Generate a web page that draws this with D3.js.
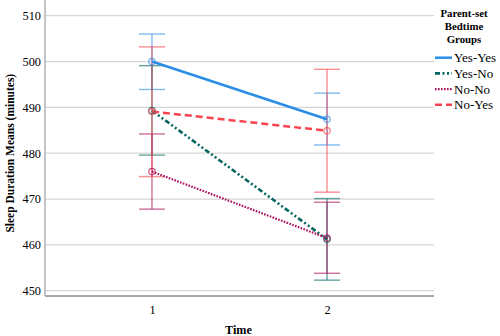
<!DOCTYPE html>
<html>
<head>
<meta charset="utf-8">
<script src="https://cdn.jsdelivr.net/npm/d3@7"></script>
</head>
<body style="margin:0;background:#fff">
<svg id="chart" width="500" height="336" font-family="Liberation Serif"></svg>
<script>
// Time points and group means with 95% CI bounds
const times = ["1", "2"];
const groups = ["Yes-Yes", "Yes-No", "No-No", "No-Yes"];
const means = {
  "Yes-Yes": [500.0, 487.4],
  "Yes-No":  [489.3, 461.2],
  "No-No":   [476.0, 461.5],
  "No-Yes":  [489.1, 484.9]
};
const lower = {
  "Yes-Yes": [493.9, 481.8],
  "Yes-No":  [479.6, 452.3],
  "No-No":   [467.8, 453.8],
  "No-Yes":  [474.9, 471.5]
};
const upper = {
  "Yes-Yes": [506.0, 493.1],
  "Yes-No":  [499.1, 470.1],
  "No-No":   [484.2, 469.3],
  "No-Yes":  [503.2, 498.3]
};
const yTicks = [450, 460, 470, 480, 490, 500, 510];

const colors = {
  "Yes-Yes": "#2b8ee6",
  "Yes-No":  "#03665f",
  "No-No":   "#a8105a",
  "No-Yes":  "#f9434f"
};
const dashes = {
  "Yes-Yes": null,
  "Yes-No":  "5,2.5,2,2.5,2,2.5",
  "No-No":   "1.6,1.4",
  "No-Yes":  "7,4"
};
const widths = { "Yes-Yes": 2.5, "Yes-No": 2.6, "No-No": 2.2, "No-Yes": 2.5 };

const FONT = "Liberation Serif";
const svg = d3.select("#chart");
const plotLeft = 45, plotRight = 434, plotTop = 0, plotBottom = 296;

const x = d3.scalePoint().domain(times).range([plotLeft, plotRight]).padding(0.611);
const y = d3.scaleLinear().domain([450, 510]).range([290.7, 15.7]);

// grid lines
svg.append("g").selectAll("line").data(yTicks).join("line")
  .attr("x1", plotLeft).attr("x2", plotRight)
  .attr("y1", d => y(d)).attr("y2", d => y(d))
  .attr("stroke", "#d6d6d6").attr("stroke-width", 1.3);

// axes
svg.append("line").attr("x1", plotLeft).attr("x2", plotLeft).attr("y1", plotTop).attr("y2", plotBottom)
  .attr("stroke", "#a8a8a8").attr("stroke-width", 1.3);
svg.append("line").attr("x1", plotLeft).attr("x2", plotRight).attr("y1", plotBottom).attr("y2", plotBottom)
  .attr("stroke", "#a8a8a8").attr("stroke-width", 2.2);

const yAxis = d3.axisLeft(y).tickValues(yTicks).tickSize(0).tickPadding(4);
svg.append("g").attr("transform", `translate(${plotLeft},0)`).call(yAxis)
  .attr("font-family", FONT).attr("font-size", 12.3)
  .call(g => g.select(".domain").remove())
  .call(g => g.selectAll("text").attr("fill", "#000"));

const xAxis = d3.axisBottom(x).tickSize(0).tickPadding(9);
svg.append("g").attr("transform", `translate(0,${plotBottom})`).call(xAxis)
  .attr("font-family", FONT).attr("font-size", 12.3)
  .call(g => g.select(".domain").remove())
  .call(g => g.selectAll("text").attr("fill", "#000"));

// axis titles
svg.append("text").attr("x", (plotLeft + plotRight) / 2 - 1).attr("y", 334)
  .attr("text-anchor", "middle").attr("font-family", FONT).attr("font-size", 12.2)
  .attr("font-weight", "bold").attr("fill", "#000").text("Time");
svg.append("text").attr("transform", `translate(13.5,${(y(450) + y(510)) / 2}) rotate(-90)`)
  .attr("text-anchor", "middle").attr("font-family", FONT).attr("font-size", 11.5)
  .attr("font-weight", "bold").attr("fill", "#000").text("Sleep Duration Means (minutes)");

// error bars
const capHalf = 13;
groups.forEach(gname => {
  const g = svg.append("g").attr("stroke", colors[gname]).attr("stroke-opacity", 0.6)
    .attr("stroke-width", 1.4);
  times.forEach((t, i) => {
    g.append("line").attr("x1", x(t)).attr("x2", x(t))
      .attr("y1", y(lower[gname][i])).attr("y2", y(upper[gname][i]));
    [lower[gname][i], upper[gname][i]].forEach(v => {
      g.append("line").attr("x1", x(t) - capHalf).attr("x2", x(t) + capHalf)
        .attr("y1", y(v)).attr("y2", y(v));
    });
  });
});

// mean lines
const line = d3.line().x((d, i) => x(times[i])).y(d => y(d));
groups.forEach(gname => {
  svg.append("path").datum(means[gname]).attr("d", line)
    .attr("fill", "none").attr("stroke", colors[gname])
    .attr("stroke-width", widths[gname])
    .attr("stroke-dasharray", dashes[gname]);
});

// mean markers
groups.forEach(gname => {
  svg.append("g").selectAll("circle").data(means[gname]).join("circle")
    .attr("cx", (d, i) => x(times[i])).attr("cy", d => y(d)).attr("r", 3.2)
    .attr("fill", "none").attr("stroke", colors[gname]).attr("stroke-opacity", 0.7)
    .attr("stroke-width", 1.2);
});

// legend
const legTitle = ["Parent-set", "Bedtime", "Groups"];
svg.append("g").selectAll("text").data(legTitle).join("text")
  .attr("x", 464).attr("y", (d, i) => 16.8 + i * 13.3)
  .attr("text-anchor", "middle").attr("font-family", FONT).attr("font-size", 10.8)
  .attr("font-weight", "bold").attr("fill", "#000").text(d => d);

const leg = svg.append("g").selectAll("g").data(groups).join("g")
  .attr("transform", (d, i) => `translate(435,${57.7 + i * 15.7})`);
leg.append("line").attr("x1", 0).attr("x2", 17).attr("y1", 0).attr("y2", 0)
  .attr("stroke", d => colors[d]).attr("stroke-width", d => widths[d])
  .attr("stroke-dasharray", d => dashes[d]);
leg.append("text").attr("x", 19).attr("y", 4.5).attr("font-family", FONT)
  .attr("font-size", 13).attr("fill", "#000").text(d => d);
</script>
</body>
</html>
